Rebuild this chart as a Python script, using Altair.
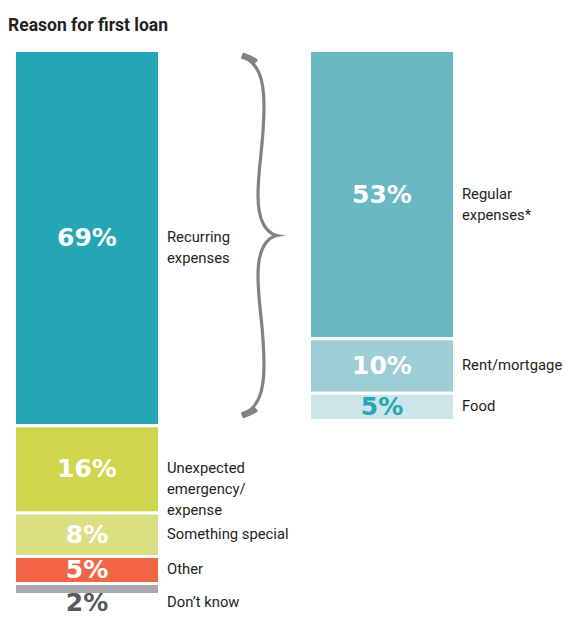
import altair as alt
import pandas as pd

title_text = "Reason for first loan"

left_labels = ["Recurring\nexpenses", "Unexpected\nemergency/\nexpense", "Something special", "Other", "Don\u2019t know"]
left_values = [69, 16, 8, 5, 2]
right_labels = ["Regular\nexpenses*", "Rent/mortgage", "Food"]
right_values = [53, 10, 5]

COLUMNS = ["left", "right"]

# styles
bar_colors = {"left": ["#24A6B4", "#CFD64D", "#DADF82", "#F26647", "#A7A9AC"],
              "right": ["#69B8C2", "#9ECED5", "#CBE5E8"]}
pct_colors = {"left": ["#FFFFFF", "#FFFFFF", "#FFFFFF", "#FFFFFF", "#58595B"],
              "right": ["#FFFFFF", "#FFFFFF", "#26A5B3"]}
LABEL_FONT = "Roboto"
PCT_FONT = "DejaVu Sans"
TEXT_COLOR = "#231F20"
BRACE_COLOR = "#808285"

rows = []
keys, bcols, pcols = [], [], []
for col, labels, values in [("left", left_labels, left_values), ("right", right_labels, right_values)]:
    acc = 0
    for i, (lab, v) in enumerate(zip(labels, values)):
        key = f"{col}{i}"
        rows.append(dict(col=col, key=key, label=lab, value=v, pct=f"{v}%",
                         start=acc, end=acc + v, mid=acc + v / 2))
        keys.append(key)
        bcols.append(bar_colors[col][i])
        pcols.append(pct_colors[col][i])
        acc += v
df = pd.DataFrame(rows)

xscale = alt.Scale(domain=COLUMNS, paddingInner=0.5085, paddingOuter=0)
yscale = alt.Scale(domain=[0, 100], reverse=True, nice=False, zero=False)

base = alt.Chart(df)

bars = base.mark_bar(stroke="white", strokeWidth=3).encode(
    x=alt.X("col:N", scale=xscale, axis=None),
    y=alt.Y("start:Q", scale=yscale, axis=None),
    y2="end:Q",
    color=alt.Color("key:N", scale=alt.Scale(domain=keys, range=bcols), legend=None),
)

pct_in = base.transform_filter("datum.value >= 3").mark_text(
    font=PCT_FONT, fontWeight="bold", fontSize=25, baseline="middle", align="center"
).encode(
    x=alt.X("col:N", scale=xscale, axis=None, bandPosition=0.5),
    y=alt.Y("mid:Q", scale=yscale, axis=None),
    text="pct:N",
    color=alt.Color("key:N", scale=alt.Scale(domain=keys, range=pcols), legend=None),
)

pct_out = base.transform_filter("datum.value < 3").mark_text(
    font=PCT_FONT, fontWeight="bold", fontSize=25, baseline="middle", align="center", dy=8
).encode(
    x=alt.X("col:N", scale=xscale, axis=None, bandPosition=0.5),
    y=alt.Y("end:Q", scale=yscale, axis=None),
    text="pct:N",
    color=alt.Color("key:N", scale=alt.Scale(domain=keys, range=pcols), legend=None),
)

lab_in = base.transform_filter("datum.value >= 3").mark_text(
    font=LABEL_FONT, fontSize=14.8, lineHeight=21, lineBreak="\n", baseline="middle",
    align="left", dx=7.5, color=TEXT_COLOR
).encode(
    x=alt.X("col:N", scale=xscale, axis=None, bandPosition=1),
    y=alt.Y("mid:Q", scale=yscale, axis=None),
    text="label:N",
)

lab_out = base.transform_filter("datum.value < 3").mark_text(
    font=LABEL_FONT, fontSize=14.8, lineHeight=21, lineBreak="\n", baseline="middle",
    align="left", dx=7.5, dy=8.5, color=TEXT_COLOR
).encode(
    x=alt.X("col:N", scale=xscale, axis=None, bandPosition=1),
    y=alt.Y("end:Q", scale=yscale, axis=None),
    text="label:N",
)

# title, anchored to the top-left corner of the left column
title_df = pd.DataFrame({"col": [COLUMNS[0]], "text": [title_text], "y": [0]})
title = alt.Chart(title_df).mark_text(
    font=LABEL_FONT, fontWeight="bold", fontSize=17.5, align="left", baseline="alphabetic",
    dx=-6.5, dy=-19.5, color=TEXT_COLOR
).encode(
    x=alt.X("col:N", scale=xscale, axis=None, bandPosition=0),
    y=alt.Y("y:Q", scale=yscale, axis=None),
    text="text:N",
)

# curly brace grouping the right-hand breakdown, drawn as a custom symbol path
pts = [(-18, -180), (-2, -172), (4, -158), (4, -130), (4, -90), (-2, -70), (-2, -40),
       (-2, -15), (6, -2), (17, 0)]
def fmt(p):
    return f"{p[0]/180:.4f} {p[1]/180:.4f}"
top = pts
bot = [(x, -y) for (x, y) in reversed(pts)]
path = ("M " + fmt(top[0]) +
        " C " + fmt(top[1]) + " " + fmt(top[2]) + " " + fmt(top[3]) +
        " C " + fmt(top[4]) + " " + fmt(top[5]) + " " + fmt(top[6]) +
        " C " + fmt(top[7]) + " " + fmt(top[8]) + " " + fmt(top[9]) +
        " C " + fmt(bot[1]) + " " + fmt(bot[2]) + " " + fmt(bot[3]) +
        " C " + fmt(bot[4]) + " " + fmt(bot[5]) + " " + fmt(bot[6]) +
        " C " + fmt(bot[7]) + " " + fmt(bot[8]) + " " + fmt(bot[9]))
ends_path = ("M " + fmt((-18, -180)) + " C " + fmt((-12, -178)) + " " + fmt((-8, -176.5)) + " " + fmt((-4, -173)) +
             " M " + fmt((-18, 180)) + " C " + fmt((-12, 178)) + " " + fmt((-8, 176.5)) + " " + fmt((-4, 173)))

brace_df = pd.DataFrame({"col": ["left"], "y": [sum(right_values) / 2]})
brace_enc = dict(
    x=alt.X("col:N", scale=xscale, axis=None, bandPosition=1),
    y=alt.Y("y:Q", scale=yscale, axis=None),
)
brace = alt.Chart(brace_df).mark_point(
    shape=path, size=360 * 360, filled=False, stroke=BRACE_COLOR, strokeWidth=3.2,
    opacity=1, xOffset=100.5, strokeJoin="miter", strokeMiterLimit=30, strokeCap="butt"
).encode(**brace_enc)
brace_ends = alt.Chart(brace_df).mark_point(
    shape=ends_path, size=360 * 360, filled=False, stroke=BRACE_COLOR, strokeWidth=6.5,
    opacity=1, xOffset=100.5, strokeCap="butt"
).encode(**brace_enc)

chart = alt.layer(bars, pct_in, pct_out, lab_in, lab_out, title, brace, brace_ends).resolve_scale(
    color="independent"
).properties(
    width=440, height=544,
    padding={"left": 6.5, "top": 42.5, "right": 108, "bottom": 17.5},
    autosize=alt.AutoSizeParams(type="none"),
).configure_view(stroke=None)

chart.save("out.html", embed_options={"renderer": "svg", "actions": False})
